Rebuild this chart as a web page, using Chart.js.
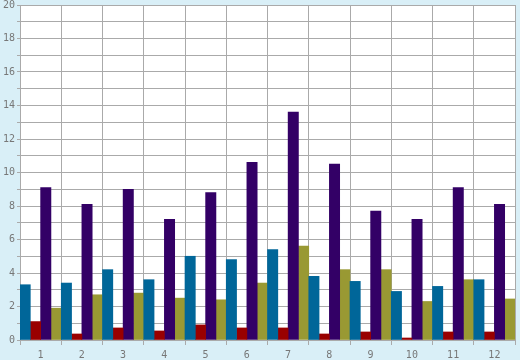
<!DOCTYPE html>
<html>
<head>
<meta charset="utf-8">
<script src="https://cdn.jsdelivr.net/npm/chart.js@4"></script>
<style>
  html, body { margin: 0; padding: 0; background: #d9eff7; }
  #wrap { width: 520px; height: 360px; }
</style>
</head>
<body>
<div id="wrap"><canvas id="myChart" width="520" height="360"></canvas></div>
<script>
'use strict';

//////////////// data ///////////////////

let categories = ['1', '2', '3', '4', '5', '6', '7', '8', '9', '10', '11', '12'];
let blueValues = [3.3, 3.4, 4.2, 3.6, 5.0, 4.8, 5.4, 3.8, 3.5, 2.9, 3.2, 3.6];
let redValues = [1.1, 0.36, 0.72, 0.54, 0.9, 0.72, 0.72, 0.36, 0.48, 0.12, 0.48, 0.48];
let purpleValues = [9.1, 8.1, 9.0, 7.2, 8.8, 10.6, 13.6, 10.5, 7.7, 7.2, 9.1, 8.1];
let oliveValues = [1.9, 2.7, 2.8, 2.5, 2.4, 3.4, 5.6, 4.2, 4.2, 2.3, 3.6, 2.45];
let yTicks = [0, 2, 4, 6, 8, 10, 12, 14, 16, 18, 20];

//////////////// background plugin ///////////////////

const plotBg = {
  id: 'plotBg',
  beforeDraw(chart) {
    const ctx = chart.ctx;
    const a = chart.chartArea;
    ctx.save();
    ctx.fillStyle = '#d9eff7';
    ctx.fillRect(0, 0, chart.width, chart.height);
    ctx.fillStyle = '#ffffff';
    ctx.fillRect(a.left, a.top, a.right - a.left, a.bottom - a.top);
    ctx.restore();
  }
};

const tickFont = { family: 'DejaVu Sans Mono', size: 10 };

let ctx = document.getElementById('myChart').getContext('2d');
let myChart = new Chart(ctx, {
  type: 'bar',
  data: {
    labels: categories,
    datasets: [
      { data: blueValues, backgroundColor: '#006699' },
      { data: redValues, backgroundColor: '#990000' },
      { data: purpleValues, backgroundColor: '#330066' },
      { data: oliveValues, backgroundColor: '#999933' }
    ]
  },
  options: {
    responsive: false,
    animation: false,
    barPercentage: 1,
    categoryPercentage: 1,
    layout: { padding: { top: 5, right: 5, left: 0, bottom: 0 } },
    plugins: {
      legend: { display: false },
      tooltip: { enabled: false }
    },
    scales: {
      x: {
        afterFit(scale) {
          scale.height = 20;
          scale.paddingLeft = 0;
          scale.paddingRight = 0;
        },
        grid: { color: '#aaaaaa', lineWidth: 1, tickLength: 5, offset: true },
        border: { color: '#aaaaaa' },
        ticks: { font: tickFont, color: '#777777', padding: 4, maxRotation: 0 }
      },
      y: {
        min: 0,
        max: 20,
        afterFit(scale) {
          scale.width = 20;
          scale.paddingTop = 0;
          scale.paddingBottom = 0;
        },
        grid: { color: '#aaaaaa', lineWidth: 1, tickLength: 3 },
        border: { color: '#aaaaaa' },
        ticks: {
          stepSize: 1,
          font: tickFont,
          color: '#777777',
          padding: 2,
          callback: function (v) { return yTicks.includes(v) ? String(v) : ''; }
        }
      }
    }
  },
  plugins: [plotBg]
});
</script>
</body>
</html>
